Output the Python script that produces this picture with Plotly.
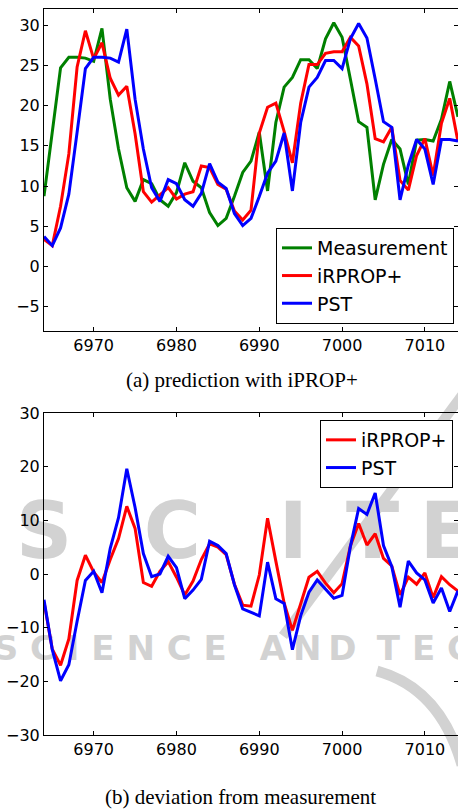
import plotly.graph_objects as go

# ---------------- data ----------------
steps = list(range(6964, 7015))

measurement = [8.75, 16.7, 24.7, 26.0, 26.0, 25.9, 25.5, 29.6, 20.8, 14.6,
               9.8, 8.1, 10.8, 10.3, 8.3, 7.5, 9.2, 12.9, 10.6, 9.8,
               6.7, 5.1, 6.0, 8.75, 11.7, 13.1, 16.7, 9.4, 17.9, 22.3,
               23.5, 25.7, 25.7, 24.6, 28.3, 30.3, 28.5, 23.3, 18.0, 17.3,
               8.3, 12.7, 15.8, 14.6, 10.2, 15.7, 15.8, 15.6, 18.3, 23.0,
               18.6]

irprop = [3.4, 2.6, 7.5, 14.0, 24.8, 29.3, 25.8, 27.8, 23.4, 21.3,
          22.4, 16.5, 9.3, 8.0, 8.9, 9.8, 8.4, 9.0, 9.3, 12.5,
          12.3, 10.2, 9.6, 6.9, 5.8, 7.0, 16.6, 19.8, 20.3, 16.8,
          12.9, 20.3, 25.1, 25.1, 26.5, 26.7, 26.7, 28.5, 27.4, 22.7,
          15.9, 15.5, 17.3, 10.7, 9.5, 13.8, 15.9, 11.3, 17.8, 20.9,
          15.5]

pst = [3.75, 2.6, 4.8, 9.0, 16.7, 24.6, 26.0, 26.0, 25.9, 25.4,
       29.5, 20.8, 14.6, 9.8, 8.1, 10.8, 10.3, 8.3, 7.5, 9.1,
       12.8, 10.5, 9.7, 6.6, 5.1, 6.0, 8.7, 11.6, 13.1, 16.6,
       9.4, 17.9, 22.3, 23.5, 25.6, 25.6, 24.6, 28.3, 30.2, 28.4,
       23.3, 18.0, 17.3, 8.3, 12.6, 15.8, 14.6, 10.2, 15.8, 15.8,
       15.6]

dev_irprop = [-5.2, -14.0, -17.0, -12.1, -1.2, 3.5, 0.4, -1.6, 2.7, 6.6,
              12.6, 8.5, -1.6, -2.3, 0.5, 2.3, -0.6, -3.9, -1.3, 2.7,
              5.6, 5.0, 3.6, -1.9, -5.8, -6.0, -0.2, 10.4, 2.4, -5.4,
              -10.5, -5.4, -0.6, 0.5, -1.7, -3.5, -1.8, 5.2, 9.4, 5.4,
              7.5, 2.9, 1.5, -3.9, -0.6, -1.9, 0.2, -4.4, -0.5, -2.0,
              -3.2]

dev_pst = [-4.8, -14.1, -19.9, -16.9, -8.8, -1.2, 0.5, -3.5, 4.8, 10.5,
           19.6, 12.4, 3.8, -0.5, 0.0, 3.3, 1.2, -4.6, -3.0, -1.0,
           6.1, 5.3, 3.8, -2.0, -6.5, -7.1, -7.8, 2.2, -4.6, -5.5,
           -14.1, -7.8, -3.4, -1.1, -2.7, -4.5, -4.0, 5.1, 12.2, 11.1,
           15.1, 5.3, 1.4, -6.2, 2.4, 0.2, -1.1, -5.4, -2.6, -7.0,
           -3.1]

x_ticks = [6970, 6980, 6990, 7000, 7010]
top_y_ticks = [-5, 0, 5, 10, 15, 20, 25, 30]
bottom_y_ticks = [-30, -20, -10, 0, 10, 20, 30]

caption_a = "(a) prediction with iPROP+"
caption_b = "(b) deviation from measurement"

# watermark (publisher logo behind the lower panel)
wm_letters = ["S", "C", "I", "T", "E"]
wm_letter_x = [6964.0, 6979.5, 6994.1, 7003.7, 7012.6]
wm_words = ["S C I E N C E", "A\u2009N\u2009D", "T E C H N O L O G Y"]
wm_word_x = [6972.0, 6995.9, 7004.2]

# ---------------- figure ----------------
W, H = 458, 809
ML, MR, MT, MB = 44, 0, 9, 74
PH = H - MT - MB
PW = W - ML - MR


def py(pix):  # pixel row -> paper y
    return (H - MB - pix) / PH


def px(pix):  # pixel column -> paper x
    return (pix - ML) / PW


GREEN, RED, BLUE = "#008000", "#ff0000", "#0000ff"
WM = "#d2d2d2"
LW = 3

fig = go.Figure()

# watermark text (drawn first, so it stays behind the lines)
fig.add_trace(go.Scatter(
    x=wm_letter_x, y=[6.6] * len(wm_letters), text=wm_letters, mode="text",
    textposition="middle center", cliponaxis=False, hoverinfo="skip",
    showlegend=False, xaxis="x2", yaxis="y2",
    textfont=dict(family="DejaVu Sans", size=78, color=WM, weight="bold")))
fig.add_trace(go.Scatter(
    x=wm_word_x, y=[-14.5] * len(wm_words), text=wm_words, mode="text",
    textposition=["middle center", "middle center", "middle right"],
    cliponaxis=False, hoverinfo="skip", showlegend=False,
    xaxis="x2", yaxis="y2",
    textfont=dict(family="DejaVu Sans", size=34, color=WM, weight="bold")))

# top panel
fig.add_trace(go.Scatter(x=steps, y=measurement, mode="lines", name="Measurement",
                         line=dict(color=GREEN, width=LW), legend="legend"))
fig.add_trace(go.Scatter(x=steps, y=irprop, mode="lines", name="iRPROP+",
                         line=dict(color=RED, width=LW), legend="legend"))
fig.add_trace(go.Scatter(x=steps, y=pst, mode="lines", name="PST",
                         line=dict(color=BLUE, width=LW), legend="legend"))

# bottom panel
fig.add_trace(go.Scatter(x=steps, y=dev_irprop, mode="lines", name="iRPROP+",
                         line=dict(color=RED, width=LW), xaxis="x2", yaxis="y2",
                         legend="legend2"))
fig.add_trace(go.Scatter(x=steps, y=dev_pst, mode="lines", name="PST",
                         line=dict(color=BLUE, width=LW), xaxis="x2", yaxis="y2",
                         legend="legend2"))

tickfont = dict(family="DejaVu Sans", size=16, color="black")
axis_common = dict(showgrid=False, zeroline=False, showline=True,
                   linecolor="black", linewidth=1, ticks="inside", ticklen=4,
                   tickcolor="black", tickwidth=1, mirror="ticks",
                   tickfont=tickfont, automargin=False)

top_bottom_px = 331
bottom_top_px = 413
LEG_FONT = dict(family="DejaVu Sans", size=19, color="black")

fig.update_layout(
    width=W, height=H,
    margin=dict(l=ML, r=MR, t=MT, b=MB, pad=0, autoexpand=False),
    paper_bgcolor="white", plot_bgcolor="rgba(0,0,0,0)",
    xaxis=dict(domain=[0, 1], range=[6964, 7014], tickvals=x_ticks,
               anchor="y", **axis_common),
    yaxis=dict(domain=[py(top_bottom_px), 1], range=[-8, 32],
               tickvals=top_y_ticks, anchor="x", **axis_common),
    xaxis2=dict(domain=[0, 1], range=[6964, 7014], tickvals=x_ticks,
                anchor="y2", **axis_common),
    yaxis2=dict(domain=[0, py(bottom_top_px)], range=[-30, 30],
                tickvals=bottom_y_ticks, anchor="x2", **axis_common),
    legend=dict(x=px(454), xanchor="right", y=py(324), yanchor="bottom",
                bordercolor="black", borderwidth=1, bgcolor="white",
                font=LEG_FONT, tracegroupgap=0, itemwidth=30),
    legend2=dict(x=px(453), xanchor="right", y=py(420), yanchor="top",
                 bordercolor="black", borderwidth=1, bgcolor="white",
                 font=LEG_FONT, tracegroupgap=0, itemwidth=30),
    showlegend=True,
    annotations=[
        dict(text=caption_a, xref="paper", yref="paper", x=px(242), y=py(380),
             xanchor="center", yanchor="middle", showarrow=False,
             font=dict(family="Liberation Serif", size=21, color="black")),
        dict(text=caption_b, xref="paper", yref="paper", x=px(240), y=py(797),
             xanchor="center", yanchor="middle", showarrow=False,
             font=dict(family="Liberation Serif", size=21, color="black")),
    ],
    shapes=[
        dict(type="line", xref="paper", yref="paper", layer="below",
             x0=px(463), y0=py(394), x1=px(283), y1=py(636),
             line=dict(color=WM, width=10)),
        dict(type="path", xref="paper", yref="paper", layer="below",
             path="M {:.4f},{:.4f} Q {:.4f},{:.4f} {:.4f},{:.4f}".format(
                 px(377), py(671), px(440), py(688), px(462), py(765)),
             line=dict(color=WM, width=11)),
    ],
)

fig.write_html(
    "out.html",
    config={"displayModeBar": False},
    post_script="document.body.style.margin='0';"
                "document.body.style.overflow='hidden';",
)
